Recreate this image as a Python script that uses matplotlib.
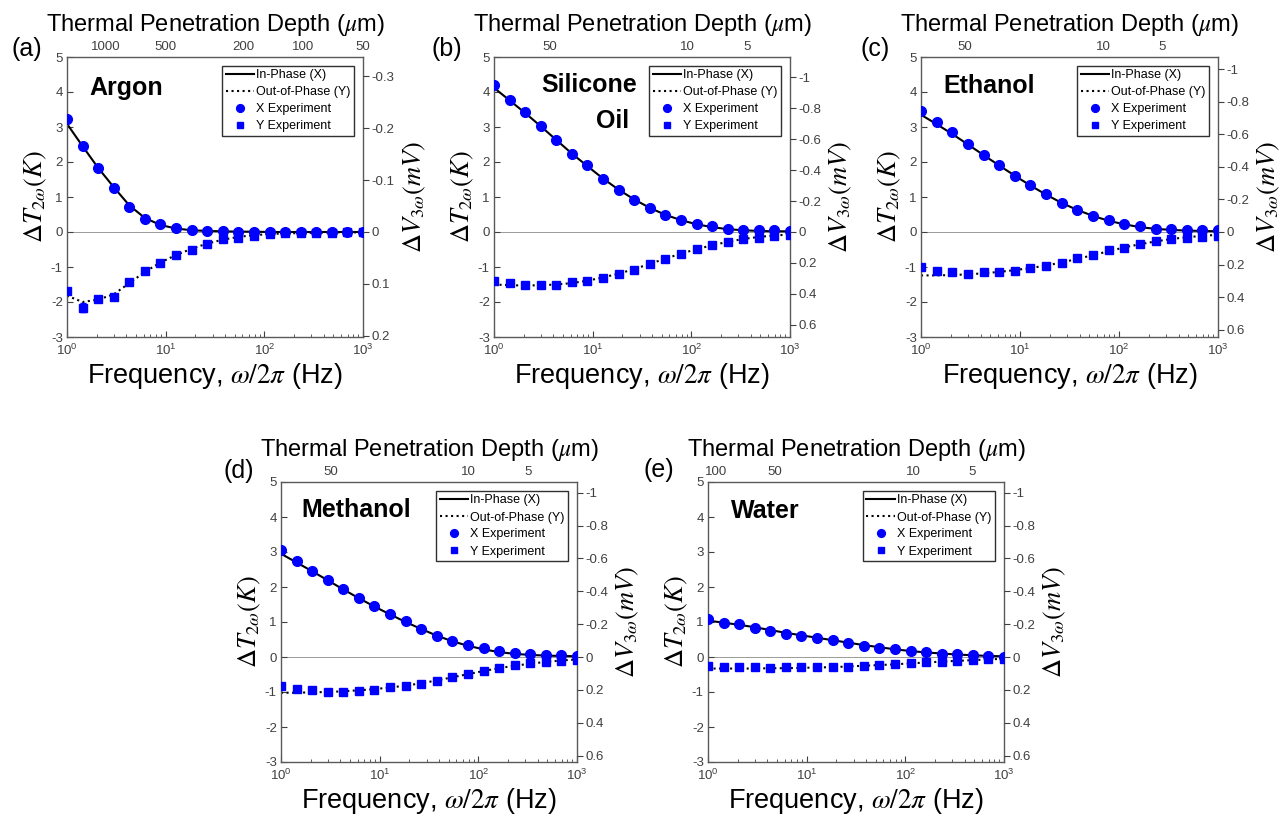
import numpy as np
import matplotlib
matplotlib.use('Agg')
import matplotlib.pyplot as plt
from matplotlib.ticker import NullLocator, LogLocator, NullFormatter

plt.rcParams['font.family'] = ['Liberation Sans', 'DejaVu Sans']
plt.rcParams['mathtext.fontset'] = 'stix'
plt.rcParams['axes.unicode_minus'] = False

# measurement frequencies (Hz)
freq = [1.0, 1.44, 2.07, 2.98, 4.28, 6.16, 8.86, 12.7, 18.3, 26.4,
        37.9, 54.6, 78.5, 113, 162, 234, 336, 483, 695, 1000]

names = ['Argon', 'Silicone', 'Ethanol', 'Methanol', 'Water']
letters = ['(a)', '(b)', '(c)', '(d)', '(e)']

# experiment, in-phase X (K)
argon_x = [3.22, 2.46, 1.82, 1.27, 0.72, 0.36, 0.23, 0.11, 0.06, 0.03,
           0.02, 0.01, 0.01, 0.01, 0.0, 0.0, 0.0, 0.0, 0.0, 0.0]
silicone_x = [4.19, 3.78, 3.42, 3.02, 2.64, 2.23, 1.90, 1.52, 1.21, 0.92,
              0.69, 0.48, 0.34, 0.23, 0.16, 0.10, 0.07, 0.06, 0.05, 0.04]
ethanol_x = [3.45, 3.13, 2.85, 2.50, 2.20, 1.90, 1.61, 1.34, 1.09, 0.83,
             0.64, 0.47, 0.33, 0.23, 0.16, 0.10, 0.08, 0.07, 0.06, 0.05]
methanol_x = [3.05, 2.74, 2.46, 2.21, 1.94, 1.69, 1.45, 1.24, 1.02, 0.80,
              0.61, 0.47, 0.33, 0.25, 0.17, 0.11, 0.08, 0.06, 0.05, 0.02]
water_x = [1.08, 0.98, 0.93, 0.84, 0.74, 0.67, 0.60, 0.54, 0.49, 0.39,
           0.31, 0.27, 0.22, 0.18, 0.13, 0.10, 0.08, 0.06, 0.04, 0.01]

# experiment, out-of-phase Y (K)
argon_y = [-1.69, -2.16, -1.92, -1.85, -1.42, -1.12, -0.88, -0.66, -0.50, -0.33,
           -0.21, -0.17, -0.12, -0.06, -0.04, -0.03, -0.02, -0.02, -0.01, -0.01]
silicone_y = [-1.39, -1.46, -1.52, -1.52, -1.50, -1.44, -1.41, -1.30, -1.19, -1.08,
              -0.91, -0.76, -0.62, -0.49, -0.38, -0.29, -0.21, -0.17, -0.11, -0.08]
ethanol_y = [-1.01, -1.10, -1.15, -1.20, -1.15, -1.13, -1.10, -1.04, -0.98, -0.89,
             -0.75, -0.66, -0.52, -0.45, -0.34, -0.26, -0.20, -0.17, -0.14, -0.10]
methanol_y = [-0.84, -0.92, -0.93, -0.99, -0.99, -0.96, -0.93, -0.87, -0.82, -0.76,
              -0.68, -0.58, -0.49, -0.39, -0.31, -0.24, -0.18, -0.14, -0.10, -0.08]
water_y = [-0.26, -0.29, -0.29, -0.29, -0.32, -0.29, -0.29, -0.29, -0.28, -0.28,
           -0.25, -0.23, -0.20, -0.18, -0.15, -0.13, -0.10, -0.09, -0.07, -0.05]

# argon error bars (K)
argon_x_err = [0.10, 0.05, 0.05, 0.03, 0.03, 0.02, 0.02, 0.01, 0.01, 0.01,
               0.01, 0.01, 0.01, 0.01, 0.01, 0.01, 0.01, 0.01, 0.01, 0.01]
argon_y_err = [0.04, 0.12, 0.04, 0.04, 0.05, 0.08, 0.04, 0.03, 0.02, 0.02,
               0.02, 0.03, 0.03, 0.01, 0.01, 0.01, 0.01, 0.01, 0.01, 0.01]

# model curves (K)
argon_fit_x = [3.09, 2.45, 1.83, 1.28, 0.76, 0.40, 0.20, 0.10, 0.05, 0.03,
               0.02, 0.01, 0.01, 0.0, 0.0, 0.0, 0.0, 0.0, 0.0, 0.0]
argon_fit_y = [-1.82, -2.00, -1.93, -1.78, -1.46, -1.14, -0.87, -0.66, -0.48, -0.33,
               -0.22, -0.14, -0.09, -0.06, -0.04, -0.03, -0.02, -0.01, -0.01, -0.01]
silicone_fit_x = [4.12, 3.76, 3.40, 3.02, 2.63, 2.24, 1.88, 1.53, 1.21, 0.93,
                  0.69, 0.49, 0.34, 0.22, 0.14, 0.08, 0.05, 0.03, 0.02, 0.02]
silicone_fit_y = [-1.50, -1.52, -1.53, -1.52, -1.50, -1.46, -1.39, -1.30, -1.19, -1.06,
                  -0.91, -0.76, -0.62, -0.49, -0.38, -0.28, -0.20, -0.14, -0.10, -0.07]
ethanol_fit_x = [3.35, 3.08, 2.80, 2.50, 2.20, 1.90, 1.61, 1.33, 1.07, 0.83,
                 0.63, 0.46, 0.32, 0.22, 0.14, 0.09, 0.06, 0.04, 0.03, 0.02]
ethanol_fit_y = [-1.24, -1.24, -1.23, -1.21, -1.18, -1.14, -1.09, -1.03, -0.96, -0.87,
                 -0.77, -0.66, -0.55, -0.44, -0.35, -0.27, -0.20, -0.15, -0.11, -0.08]
methanol_fit_x = [2.95, 2.70, 2.45, 2.19, 1.93, 1.68, 1.44, 1.22, 1.00, 0.80,
                  0.61, 0.45, 0.32, 0.22, 0.14, 0.09, 0.06, 0.04, 0.03, 0.02]
methanol_fit_y = [-1.02, -1.02, -1.01, -1.00, -0.98, -0.95, -0.92, -0.87, -0.82, -0.75,
                  -0.67, -0.58, -0.49, -0.40, -0.32, -0.25, -0.19, -0.14, -0.10, -0.07]
water_fit_x = [1.04, 0.98, 0.92, 0.85, 0.77, 0.69, 0.62, 0.55, 0.48, 0.41,
               0.34, 0.28, 0.22, 0.17, 0.13, 0.10, 0.07, 0.05, 0.03, 0.02]
water_fit_y = [-0.33, -0.33, -0.33, -0.33, -0.32, -0.32, -0.31, -0.30, -0.29, -0.27,
               -0.25, -0.23, -0.21, -0.18, -0.16, -0.13, -0.11, -0.09, -0.07, -0.05]

exp_x = [argon_x, silicone_x, ethanol_x, methanol_x, water_x]
exp_y = [argon_y, silicone_y, ethanol_y, methanol_y, water_y]
fit_x = [argon_fit_x, silicone_fit_x, ethanol_fit_x, methanol_fit_x, water_fit_x]
fit_y = [argon_fit_y, silicone_fit_y, ethanol_fit_y, methanol_fit_y, water_fit_y]

# penetration depth = scale / sqrt(f)   (um)
depth_scale = [1570, 95.5, 83, 89, 109.5]
depth_ticks = [[1000, 500, 200, 100, 50], [50, 10, 5], [50, 10, 5], [50, 10, 5], [100, 50, 10, 5]]

# mV per K on the right axis
mv_per_k = [0.0675, 0.226, 0.215, 0.213, 0.213]
v_ticks = [[-0.3, -0.2, -0.1, 0, 0.1, 0.2]] + [[-1, -0.8, -0.6, -0.4, -0.2, 0, 0.2, 0.4, 0.6]] * 4

W, H = 1282, 824
# axes boxes in pixels: left, top, right, bottom
boxes = [(67, 57, 363, 337), (494, 57, 790, 337), (921, 57, 1218, 337),
         (281, 482, 577, 762), (708, 482, 1004, 762)]
letter_pos = [(27, 49), (447, 49), (875, 49), (239, 471), (659, 470)]
name_pos = [(0.20, 0.89), (0.32, 0.90), (0.23, 0.895), (0.255, 0.90), (0.195, 0.895)]

spine_c = '#5a5a5a'
tick_c = '#404040'

fig = plt.figure(figsize=(W / 100, H / 100), dpi=100)

for i in range(5):
    l, t, r, b = boxes[i]
    ax = fig.add_axes([l / W, 1 - b / H, (r - l) / W, (b - t) / H])
    ax.set_xscale('log')
    ax.set_xlim(1, 1000)
    ax.set_ylim(-3, 5)
    ax.axhline(0, color='#9a9a9a', lw=0.7, zorder=1)

    lx, = ax.plot(freq, fit_x[i], color='black', lw=1.5, zorder=2)
    ly, = ax.plot(freq, fit_y[i], color='black', lw=1.5, ls=':', zorder=2)
    if i == 0:
        ax.errorbar(freq, exp_x[i], yerr=argon_x_err, fmt='none', ecolor='blue', elinewidth=1, capsize=2, zorder=3)
        ax.errorbar(freq, exp_y[i], yerr=argon_y_err, fmt='none', ecolor='blue', elinewidth=1, capsize=2, zorder=3)
    px, = ax.plot(freq, exp_x[i], 'o', color='blue', ms=7, mec='blue', zorder=4)
    py, = ax.plot(freq, exp_y[i], 's', color='blue', ms=5.5, mec='blue', zorder=4)

    ax.set_yticks(range(-3, 6))
    ax.tick_params(axis='both', which='both', direction='in', colors=tick_c, labelsize=9.5, top=True)
    ax.tick_params(axis='x', which='major', length=4, pad=4)
    ax.tick_params(axis='x', which='minor', length=2)
    ax.tick_params(axis='y', which='major', length=4, pad=3)
    ax.xaxis.set_minor_locator(LogLocator(base=10, subs=np.arange(2, 10)))
    ax.xaxis.set_minor_formatter(NullFormatter())
    for s in ax.spines.values():
        s.set_color(spine_c)
        s.set_linewidth(1.0)

    ax.set_xlabel(r'Frequency, $\omega/2\pi$ (Hz)', fontsize=19.5, labelpad=2)
    ax.set_ylabel(r'$\Delta T_{2\omega}(K)$', fontsize=19, labelpad=1)

    leg = ax.legend([lx, ly, px, py], ['In-Phase (X)', 'Out-of-Phase (Y)', 'X Experiment', 'Y Experiment'],
                    loc='upper right', fontsize=9, frameon=True, fancybox=False, framealpha=1,
                    edgecolor='#303030', handlelength=2.3, handletextpad=0.15, labelspacing=0.4,
                    borderpad=0.25, borderaxespad=0.75, markerscale=0.8)
    leg.get_frame().set_linewidth(1.0)

    # right axis: voltage
    k = mv_per_k[i]
    axr = ax.twinx()
    axr.set_ylim(3 * k, -5 * k)
    axr.set_yticks(v_ticks[i])
    axr.set_yticklabels(['%g' % v for v in v_ticks[i]])
    axr.tick_params(axis='y', direction='out', length=4, colors=tick_c, labelsize=9.5, pad=2)
    axr.set_ylabel(r'$\Delta V_{3\omega}(mV)$', fontsize=19, labelpad=5)
    for s in axr.spines.values():
        s.set_visible(False)

    # top axis: penetration depth
    axt = ax.twiny()
    axt.set_xscale('log')
    axt.set_xlim(1, 1000)
    axt.xaxis.set_minor_locator(NullLocator())
    axt.set_xticks([(depth_scale[i] / d) ** 2 for d in depth_ticks[i]])
    axt.set_xticklabels([str(d) for d in depth_ticks[i]])
    axt.tick_params(axis='x', direction='in', length=0, colors=tick_c, labelsize=9.5, pad=3)
    axt.set_xlabel(r'Thermal Penetration Depth ($\mu$m)', fontsize=17, labelpad=7)
    for s in axt.spines.values():
        s.set_visible(False)

    if i == 1:
        ax.text(0.32, 0.90, 'Silicone', transform=ax.transAxes, fontsize=18, fontweight='bold',
                ha='center', va='center')
        ax.text(0.40, 0.77, 'Oil', transform=ax.transAxes, fontsize=18, fontweight='bold',
                ha='center', va='center')
    else:
        ax.text(name_pos[i][0], name_pos[i][1], names[i], transform=ax.transAxes, fontsize=18,
                fontweight='bold', ha='center', va='center')

    fig.text(letter_pos[i][0] / W, 1 - letter_pos[i][1] / H, letters[i], fontsize=18,
             ha='center', va='center')

fig.savefig('out.png', dpi=100)
